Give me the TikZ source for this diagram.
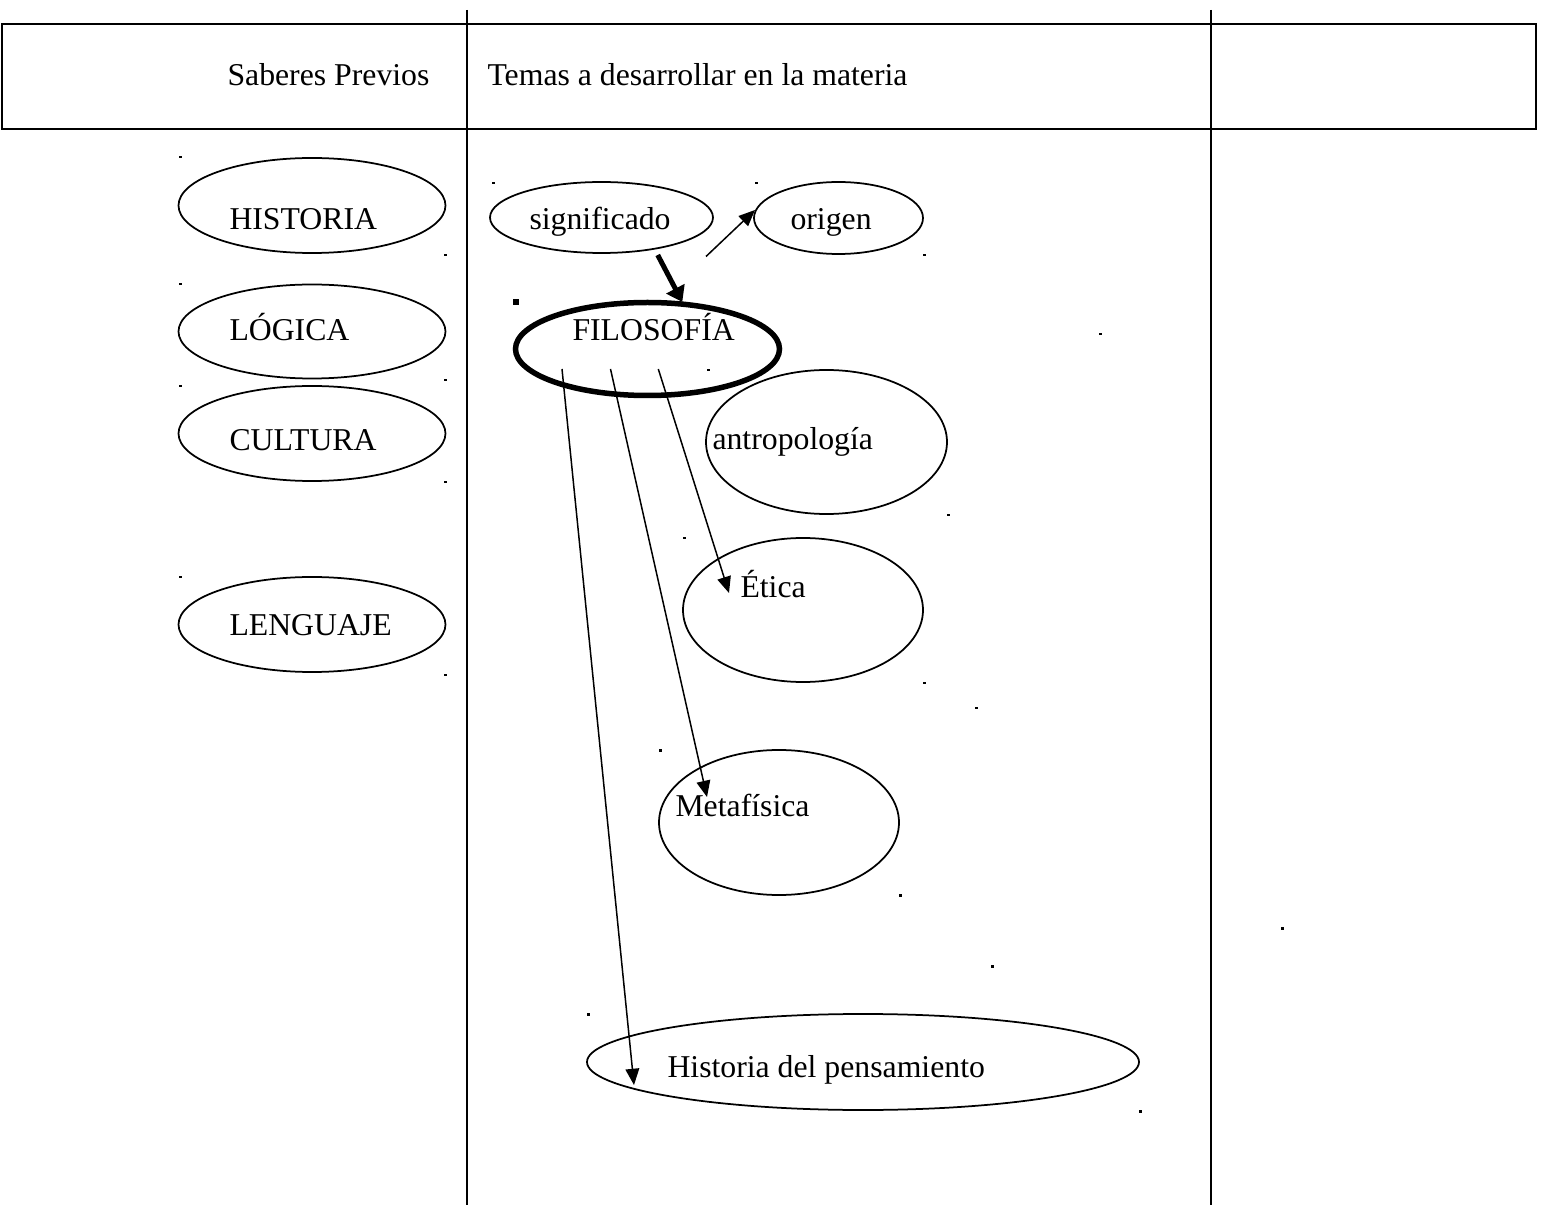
\documentclass[tikz,border=0pt]{standalone}
\usepackage{fontspec}
\setmainfont{Liberation Serif}
\usetikzlibrary{arrows.meta,shapes.geometric}

\begin{document}
\begin{tikzpicture}[x=0.4pt,y=-0.4pt,
    oval/.style 2 args={draw,ellipse,line width=0.7pt,inner sep=0pt,minimum width=#1,minimum height=#2},
    word/.style={inner sep=0pt,font=\fontsize{12.7}{15}\selectfont},
    flecha/.style={line width=0.6pt,-{Triangle[length=6.5pt,width=5.5pt]}}]
    \useasboundingbox (0,0) rectangle (1542,1205);
    % cuadro
    \draw[line width=0.9pt] (2,24) rectangle (1536,129);
    \draw[line width=0.9pt] (467,10) -- (467,1205) (1211,10) -- (1211,1205);
    \node[word,anchor=base west] (saberes) at (227,85.5) {Saberes Previos};
    \node[word,anchor=base west] (temas) at (487,85.5) {Temas a desarrollar en la materia};

    % saberes previos
    \node[oval={106.8pt}{38pt}] (hist) at (312,205.5) {};
    \node[oval={106.8pt}{37.6pt}] (logica) at (312,331.5) {};
    \node[oval={106.8pt}{38pt}] (cultura) at (312,433.5) {};
    \node[oval={106.8pt}{38pt}] (lenguaje) at (312,624.5) {};
    \node[word,anchor=base west] (histT) at (229,229.5) {HISTORIA};
    \node[word,anchor=base west] (logicaT) at (229,340.5) {LÓGICA};
    \node[word,anchor=base west] (culturaT) at (229,451) {CULTURA};
    \node[word,anchor=base west] (lenguajeT) at (229,635.5) {LENGUAJE};

    % temas
    \node[oval={89.2pt}{28.4pt}] (sig) at (601.5,217.5) {};
    \node[oval={67.6pt}{28.8pt}] (origen) at (838.5,218) {};
    \node[draw,ellipse,line width=2.2pt,inner sep=0pt,minimum width=105.6pt,minimum height=37.2pt] (filo) at (647.5,349) {};
    \node[oval={96.4pt}{57.6pt}] (antro) at (826.5,442) {};
    \node[oval={96pt}{57.6pt}] (etica) at (803,610) {};
    \node[oval={96pt}{58pt}] (meta) at (779,822.5) {};
    \node[oval={220.8pt}{38.4pt}] (histp) at (863,1062) {};
    \node[word,anchor=base west] (sigT) at (529,230) {significado};
    \node[word,anchor=base west] (origenT) at (790,230) {origen};
    \node[word,anchor=base west] (filoT) at (572,341) {FILOSOFÍA};
    \node[word,anchor=base west] (antroT) at (712,449.5) {antropología};
    \node[word,anchor=base west] (eticaT) at (740,598) {Ética};
    \node[word,anchor=base west] (metaT) at (675,817) {Metafísica};
    \node[word,anchor=base west] (histpT) at (667,1077) {Historia del pensamiento};

    % flechas
    \coordinate (s1) at (706,256.5);
    \coordinate (o1) at (755,210);
    \coordinate (s2) at (657.7,255);
    \coordinate (f0) at (682.3,302);
    \coordinate (f1) at (562,369);
    \coordinate (f2) at (610.5,369);
    \coordinate (f3) at (658.3,369);
    \coordinate (h1) at (634,1085);
    \coordinate (m1) at (707,797);
    \coordinate (e1) at (729,593);
    \draw[flecha] (s1) -- (o1);
    \draw[line width=2pt,-{Triangle[length=6pt,width=8pt]}] (s2) -- (f0);
    \draw[flecha] (f1) -- (h1);
    \draw[flecha] (f2) -- (m1);
    \draw[flecha] (f3) -- (e1);

    % puntos
    \foreach \p in {(179,156),(444,254),(179,283),(444,379),(179,385),(444,481),(179,576),(444,674),
        (492,182),(755,182),(923,254),(707,369),(947,514),(683,537),(923,682),(975,707),
        (659,749),(899,894),(991,965),(587,1013),(1139,1110),(1099,333),(1281,927)}
        \fill \p rectangle ++(2.5,2.5);
    \fill (513,299) rectangle (519,305);
\end{tikzpicture}
\end{document}
